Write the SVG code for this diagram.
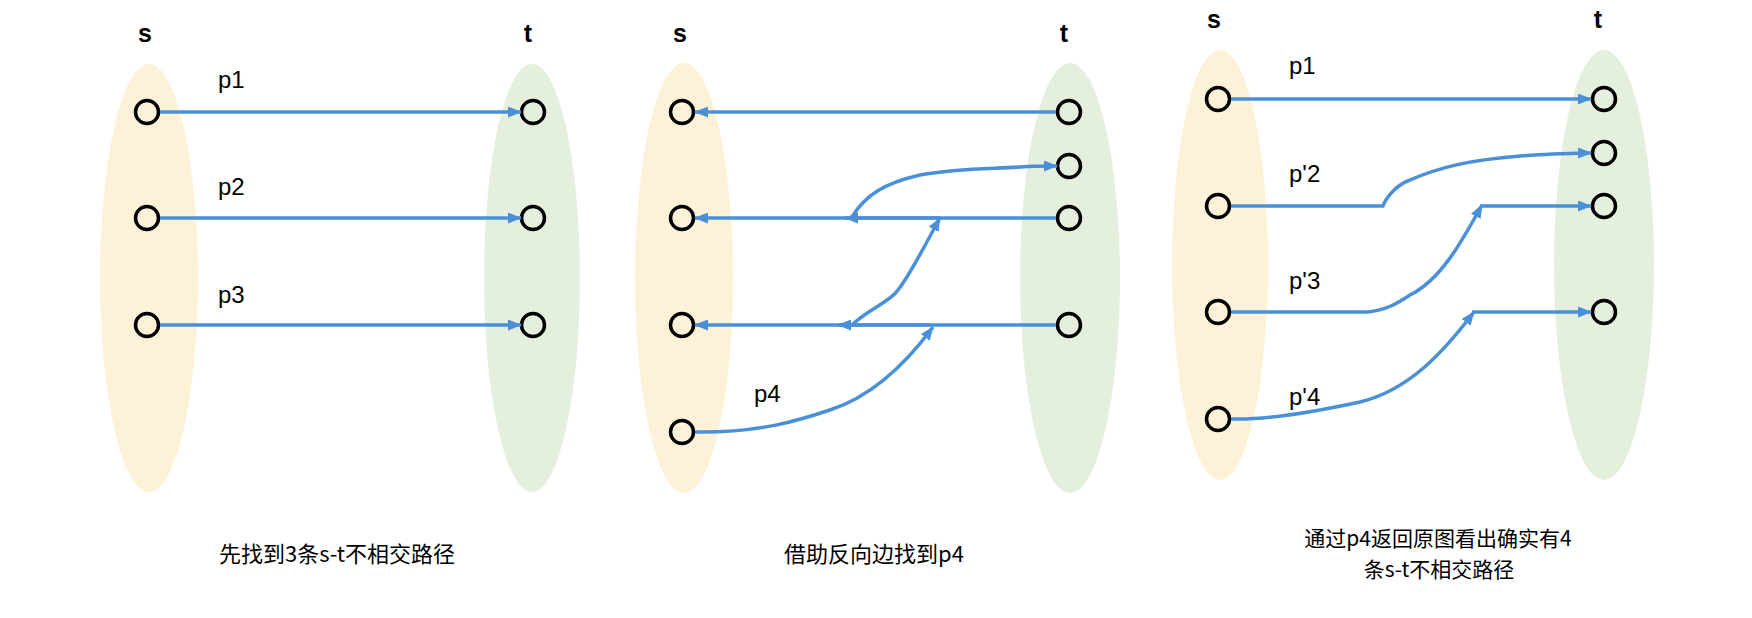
<svg xmlns="http://www.w3.org/2000/svg" width="1752" height="618" viewBox="0 0 1752 618">
<style>
.ey{fill:#fdf2d8}
.eg{fill:#e4f0dd}
.nd{fill:none;stroke:#000;stroke-width:3.5}
.hd{font-family:"Liberation Sans",Arial,sans-serif;font-weight:bold;font-size:25px;fill:#000;text-anchor:middle}
.lb{font-family:"Liberation Sans",Arial,sans-serif;font-size:24px;fill:#000}
.cp{font-family:"Noto Sans CJK SC","Liberation Sans",sans-serif;font-size:22px;fill:#000;text-anchor:middle}
.ed{fill:none;stroke:#4a90d9;stroke-width:3.5;marker-end:url(#ah)}
</style>
<defs>
<marker id="ah" viewBox="0 0 14 11" refX="13" refY="5.5" markerWidth="14" markerHeight="11" markerUnits="userSpaceOnUse" orient="auto">
<path d="M0,0 L14,5.5 L0,11 z" fill="#4a90d9"/>
</marker>
</defs>
<rect width="1752" height="618" fill="#fff"/>

<!-- Panel 1 -->
<g id="panel1">
<ellipse class="ey" cx="149" cy="278" rx="49" ry="214"/>
<ellipse class="eg" cx="532" cy="278" rx="48" ry="214"/>
<text class="hd" x="145" y="42">s</text>
<text class="hd" x="528" y="42">t</text>
<text class="lb" x="218" y="88">p1</text>
<text class="lb" x="218" y="195">p2</text>
<text class="lb" x="218" y="303">p3</text>
</g>
<g id="p1-nodes">
<circle id="p1s1" class="nd" cx="147" cy="112" r="11.5"/>
<circle id="p1s2" class="nd" cx="147" cy="218" r="11.5"/>
<circle id="p1s3" class="nd" cx="147" cy="325" r="11.5"/>
<circle id="p1t1" class="nd" cx="533" cy="112" r="11.5"/>
<circle id="p1t2" class="nd" cx="533" cy="218" r="11.5"/>
<circle id="p1t3" class="nd" cx="533" cy="325" r="11.5"/>
</g>

<!-- Panel 2 -->
<g id="panel2">
<ellipse class="ey" cx="684" cy="278" rx="49" ry="215"/>
<ellipse class="eg" cx="1070" cy="278" rx="50" ry="215"/>
<text class="hd" x="680" y="42">s</text>
<text class="hd" x="1064" y="42">t</text>
<text class="lb" x="754" y="402">p4</text>
</g>
<g id="p2-nodes">
<circle id="p2s1" class="nd" cx="682" cy="112" r="11.5"/>
<circle id="p2s2" class="nd" cx="682" cy="218" r="11.5"/>
<circle id="p2s3" class="nd" cx="682" cy="325" r="11.5"/>
<circle id="p2s4" class="nd" cx="682" cy="432" r="11.5"/>
<circle id="p2t1" class="nd" cx="1069" cy="112" r="11.5"/>
<circle id="p2t2" class="nd" cx="1069" cy="166" r="11.5"/>
<circle id="p2t3" class="nd" cx="1069" cy="218" r="11.5"/>
<circle id="p2t4" class="nd" cx="1069" cy="325" r="11.5"/>
</g>

<!-- Panel 3 -->
<g id="panel3">
<ellipse class="ey" cx="1220" cy="265" rx="48" ry="215"/>
<ellipse class="eg" cx="1604" cy="265" rx="50" ry="215"/>
<text class="hd" x="1214" y="28">s</text>
<text class="hd" x="1598" y="28">t</text>
<text class="lb" x="1289" y="74">p1</text>
<text class="lb" x="1289" y="182">p'2</text>
<text class="lb" x="1289" y="289">p'3</text>
<text class="lb" x="1289" y="405">p'4</text>
</g>
<g id="p3-nodes">
<circle id="p3s1" class="nd" cx="1218" cy="99" r="11.5"/>
<circle id="p3s2" class="nd" cx="1218" cy="206" r="11.5"/>
<circle id="p3s3" class="nd" cx="1218" cy="312" r="11.5"/>
<circle id="p3s4" class="nd" cx="1218" cy="419" r="11.5"/>
<circle id="p3t1" class="nd" cx="1604" cy="99" r="11.5"/>
<circle id="p3t2" class="nd" cx="1604" cy="153" r="11.5"/>
<circle id="p3t3" class="nd" cx="1604" cy="206" r="11.5"/>
<circle id="p3t4" class="nd" cx="1604" cy="312" r="11.5"/>
</g>

<g id="connectors">
<!-- panel 1 -->
<path class="ed" d="M160,112 L521,112"/>
<path class="ed" d="M160,218 L521,218"/>
<path class="ed" d="M160,325 L521,325"/>
<!-- panel 2 -->
<path class="ed" d="M1056,112 L695,112"/>
<path class="ed" d="M1056,218 L695,218"/>
<path class="ed" d="M1056,325 L695,325"/>
<path class="ed" d="M695,432 C760,433 800,420 830,410 C870,397 905,365 933,327"/>
<path class="ed" d="M930,325 L838,325"/>
<path class="ed" d="M853,324 C870,308 890,302 898,290 C910,275 925,245 940,218"/>
<path class="ed" d="M940,218 L845,218"/>
<path class="ed" d="M852,217 C865,195 885,183 920,175 C960,168 990,169 1020,167 C1035,166 1045,166 1057,166"/>
<!-- panel 3 -->
<path class="ed" d="M1231,99 L1591,99"/>
<path class="ed" d="M1231,206 L1383,206 C1385,200 1395,185 1410,180 C1440,167 1470,160 1520,156 C1550,154 1570,153 1591,153"/>
<path class="ed" d="M1231,312 L1368,312 C1385,310 1395,305 1410,295 C1440,280 1460,245 1482,205"/>
<path class="ed" d="M1480,206 L1591,206"/>
<path class="ed" d="M1231,419 C1260,420 1300,415 1360,402 C1410,390 1445,350 1474,312"/>
<path class="ed" d="M1472,312 L1591,312"/>
</g>

<g id="captions">
<text class="cp" x="337" y="562">先找到3条s-t不相交路径</text>
<text class="cp" x="874" y="562">借助反向边找到p4</text>
<text class="cp" style="font-size:21px" x="1438" y="546">通过p4返回原图看出确实有4</text>
<text class="cp" style="font-size:21px" x="1439" y="577">条s-t不相交路径</text>
</g>
</svg>
